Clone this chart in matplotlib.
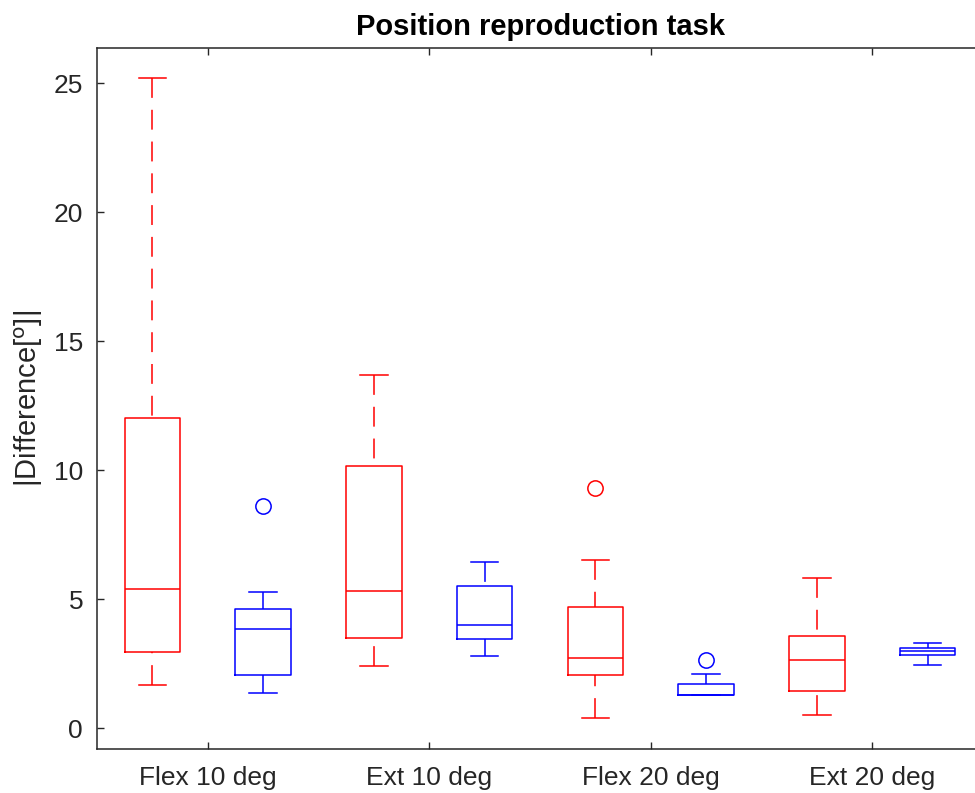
import numpy as np
import matplotlib
matplotlib.use("Agg")
import matplotlib.pyplot as plt

plt.rcParams['font.family'] = ['Liberation Sans', 'DejaVu Sans']

# group labels
groups = ['Flex 10 deg', 'Ext 10 deg', 'Flex 20 deg', 'Ext 20 deg']

# red series
red_whislo = [1.68, 2.39, 0.41, 0.49]
red_q1 = [2.95, 3.50, 2.07, 1.45]
red_med = [5.40, 5.33, 2.72, 2.65]
red_q3 = [12.00, 10.17, 4.69, 3.58]
red_whishi = [25.20, 13.67, 6.52, 5.80]
red_fliers = [[], [], [9.30], []]

# blue series
blue_whislo = [1.36, 2.80, 1.28, 2.44]
blue_q1 = [2.07, 3.45, 1.28, 2.83]
blue_med = [3.84, 3.98, 1.28, 2.98]
blue_q3 = [4.62, 5.49, 1.69, 3.12]
blue_whishi = [5.26, 6.43, 2.09, 3.28]
blue_fliers = [[8.59], [], [2.65], []]

grey = (0.15, 0.15, 0.15)


def make_stats(lo, q1, med, q3, hi, fl):
    out = []
    for i in range(len(lo)):
        out.append(dict(whislo=lo[i], q1=q1[i], med=med[i], q3=q3[i],
                        whishi=hi[i], fliers=fl[i]))
    return out


def draw(ax, stats, pos, col):
    lw = 1.1
    res = ax.bxp(stats, positions=pos, widths=0.25, capwidths=0.125,
                 showfliers=True, manage_ticks=False,
                 boxprops=dict(color=col, linewidth=lw),
                 medianprops=dict(color=col, linewidth=lw),
                 whiskerprops=dict(color=col, linewidth=lw, linestyle=(0, (13, 7.8))),
                 capprops=dict(color=col, linewidth=lw),
                 flierprops=dict(marker='o', markerfacecolor='none',
                                 markeredgecolor=col, markersize=11,
                                 markeredgewidth=1.1))
    # dashes start from the cap end, like the original
    for w in res['whiskers']:
        w.set_ydata(w.get_ydata()[::-1])
    return res


fig = plt.figure(figsize=(9.75, 7.93), dpi=100)
ax = fig.add_axes([0.0995, 0.0555, 0.9087, 0.884])

centers = np.arange(1, len(groups) + 1)
draw(ax, make_stats(red_whislo, red_q1, red_med, red_q3, red_whishi, red_fliers),
     centers - 0.25, (1, 0, 0))
draw(ax, make_stats(blue_whislo, blue_q1, blue_med, blue_q3, blue_whishi, blue_fliers),
     centers + 0.25, (0, 0, 1))

ax.set_xlim(0.5, 4.5)
ax.set_ylim(-0.81, 26.36)
ax.set_xticks(centers)
ax.set_xticklabels(groups)
ax.set_yticks([0, 5, 10, 15, 20, 25])

for s in ax.spines.values():
    s.set_color(grey)
    s.set_linewidth(1.1)
ax.tick_params(direction='in', length=5, width=1.0, colors=grey,
               labelsize=19, top=True, right=True)
ax.tick_params(axis='x', pad=12)
ax.tick_params(axis='y', pad=10)

ax.set_ylabel('|Difference[$^{\\mathrm{o}}$]|', fontsize=21, color=grey, labelpad=6)
ax.set_title('Position reproduction task', fontsize=21, fontweight='bold', pad=9)

fig.savefig('out.png', dpi=100)
